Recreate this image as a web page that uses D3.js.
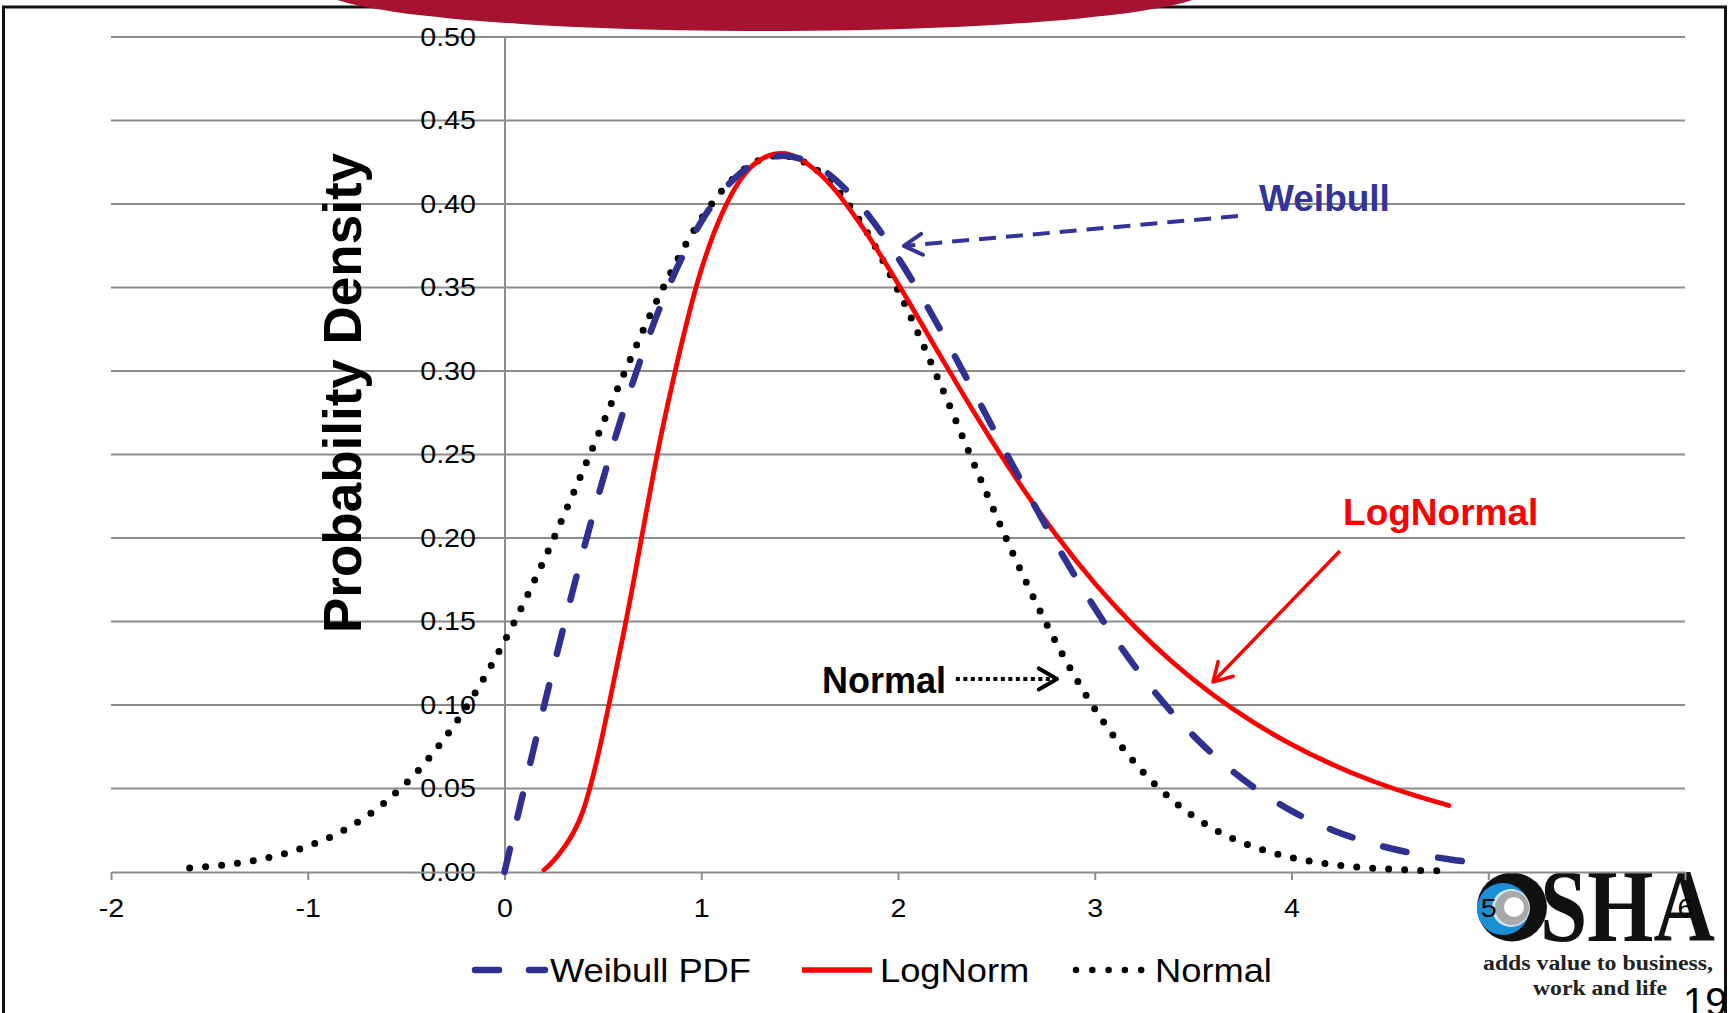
<!DOCTYPE html>
<html>
<head>
<meta charset="utf-8">
<script src="https://cdn.jsdelivr.net/npm/d3@7"></script>
<style>
  html, body { margin: 0; padding: 0; background: #fff; overflow: hidden; }
  svg { display: block; }
  text { font-family: "Liberation Sans", Arial, sans-serif; }
</style>
</head>
<body>
<svg id="chart" width="1733" height="1013"></svg>
<script>
// ---- data -------------------------------------------------------------
const weibullX = [0, 0.2, 0.4, 0.6, 0.8, 1.0, 1.2, 1.4, 1.6, 1.8, 2.0, 2.2, 2.4, 2.6, 2.8, 3.0, 3.2, 3.4, 3.6, 3.8, 4.0, 4.2, 4.4, 4.6, 4.8, 4.9];
const weibullY = [0, 0.0990, 0.1922, 0.2742, 0.3409, 0.3894, 0.4186, 0.4288, 0.4218, 0.4004, 0.3679, 0.3280, 0.2843, 0.2399, 0.1972, 0.1581, 0.1237, 0.0945, 0.0705, 0.0514, 0.0366, 0.0255, 0.0174, 0.0116, 0.0076, 0.0061];

const lognormX = [0.2, 0.4, 0.6, 0.8, 1.0, 1.2, 1.4, 1.6, 1.8, 2.0, 2.2, 2.4, 2.6, 2.8, 3.0, 3.2, 3.4, 3.6, 3.8, 4.0, 4.2, 4.4, 4.6, 4.8];
const lognormY = [0.0012, 0.0369, 0.1400, 0.2638, 0.3606, 0.4147, 0.4303, 0.4183, 0.3895, 0.3523, 0.3121, 0.2727, 0.2358, 0.2024, 0.1729, 0.1473, 0.1251, 0.1062, 0.0901, 0.0764, 0.0648, 0.0550, 0.0468, 0.0398];

const normalX = [-1.6, -1.4, -1.2, -1.0, -0.8, -0.6, -0.4, -0.2, 0, 0.2, 0.4, 0.6, 0.8, 1.0, 1.2, 1.4, 1.6, 1.8, 2.0, 2.2, 2.4, 2.6, 2.8, 3.0, 3.2, 3.4, 3.6, 3.8, 4.0, 4.2, 4.4, 4.6, 4.8];
const normalY = [0.0024, 0.0046, 0.0086, 0.0154, 0.0261, 0.0425, 0.0659, 0.0977, 0.1382, 0.1866, 0.2406, 0.2963, 0.3484, 0.3911, 0.4192, 0.4290, 0.4192, 0.3911, 0.3484, 0.2963, 0.2406, 0.1866, 0.1382, 0.0977, 0.0659, 0.0425, 0.0261, 0.0154, 0.0086, 0.0046, 0.0024, 0.0012, 0.0005];

const seriesNames = ["Weibull PDF", "LogNorm", "Normal"];
const xTicks = [-2, -1, 0, 1, 2, 3, 4, 5, 6];
const yTicks = [0, 0.05, 0.10, 0.15, 0.20, 0.25, 0.30, 0.35, 0.40, 0.45, 0.50];
const yTitle = "Probability Density";

// call-out labels, anchored in data units
const calloutText = ["Weibull", "LogNormal", "Normal"];
const calloutLabelAt = [[3.835, 0.3958], [4.262, 0.2078], [1.614, 0.1072]];
const calloutFrom = [[3.728, 0.3928], [4.246, 0.1922], [2.294, 0.1156]];
const calloutTo = [[2.030, 0.3749], [3.601, 0.1138], [2.808, 0.1156]];

// ---- drawing ----------------------------------------------------------
const svg = d3.select("#chart");
const W = 1733, H = 1013;

const x = d3.scaleLinear().domain([-2, 6]).range([111, 1685]);
const y = d3.scaleLinear().domain([0, 0.5]).range([872, 37]);

const NAVY = "#2e3192", RED = "#ff0000", GRID = "#8c8c8c";

svg.append("rect").attr("width", W).attr("height", H).attr("fill", "#fff");

// frame
const frame = svg.append("g").attr("stroke", "#111").attr("stroke-width", 3).attr("fill", "none");
frame.append("line").attr("x1", 2).attr("x2", 1727).attr("y1", 7).attr("y2", 7);
frame.append("line").attr("x1", 3.5).attr("x2", 3.5).attr("y1", 6).attr("y2", H);
frame.append("line").attr("x1", 1725.5).attr("x2", 1725.5).attr("y1", 6).attr("y2", H);

// slide decoration: red swoosh at the top
svg.append("ellipse")
  .attr("cx", 765).attr("cy", -12).attr("rx", 445).attr("ry", 43)
  .attr("fill", "#a6122f");

// logo (bottom right)
const logo = svg.append("g");
logo.append("ellipse").attr("cx", 1512).attr("cy", 907).attr("rx", 35).attr("ry", 34.5).attr("fill", "#111");
logo.append("circle").attr("cx", 1503).attr("cy", 909).attr("r", 26).attr("fill", "#1b8fd6");
logo.append("circle").attr("cx", 1511).attr("cy", 908).attr("r", 19).attr("fill", "#cfe6f5");
logo.append("circle").attr("cx", 1512).attr("cy", 908).attr("r", 17).attr("fill", "#a9a9a9");
logo.append("circle").attr("cx", 1514).attr("cy", 907).attr("r", 10).attr("fill", "#fff");
logo.append("text").text("SHA")
  .attr("x", 1540).attr("y", 941)
  .attr("textLength", 175).attr("lengthAdjust", "spacingAndGlyphs")
  .style("font-family", "'Liberation Serif', 'DejaVu Serif', serif")
  .style("font-weight", "bold").style("font-size", "103px").attr("fill", "#111");
logo.append("text").text("adds value to business,")
  .attr("x", 1483).attr("y", 970)
  .attr("textLength", 230).attr("lengthAdjust", "spacingAndGlyphs")
  .style("font-family", "'Liberation Serif', 'DejaVu Serif', serif")
  .style("font-weight", "bold").style("font-size", "20px").attr("fill", "#222");
logo.append("text").text("work and life")
  .attr("x", 1533).attr("y", 995)
  .attr("textLength", 134).attr("lengthAdjust", "spacingAndGlyphs")
  .style("font-family", "'Liberation Serif', 'DejaVu Serif', serif")
  .style("font-weight", "bold").style("font-size", "20px").attr("fill", "#222");

// horizontal gridlines
svg.append("g").selectAll("line").data(yTicks.filter(d => d > 0)).join("line")
  .attr("x1", x(-2)).attr("x2", x(6))
  .attr("y1", d => y(d)).attr("y2", d => y(d))
  .attr("stroke", GRID).attr("stroke-width", 2);

// y axis at x = 0
const yAxis = svg.append("g")
  .attr("transform", `translate(${x(0)},0)`)
  .call(d3.axisLeft(y).tickValues(yTicks).tickFormat(d3.format(".2f")).tickSize(0).tickPadding(26));
yAxis.select(".domain").attr("stroke", GRID).attr("stroke-width", 2);
yAxis.selectAll("text")
  .attr("fill", "#000").style("font-size", "26px").style("font-family", "'Liberation Sans', Arial, sans-serif")
  .attr("transform", "scale(1.1,1)");

// x axis at y = 0
const xAxis = svg.append("g")
  .attr("transform", `translate(0,${y(0)})`)
  .call(d3.axisBottom(x).tickValues(xTicks).tickFormat(d => String(d)).tickSize(8).tickSizeOuter(0));
xAxis.select(".domain").attr("stroke", GRID).attr("stroke-width", 2);
xAxis.selectAll(".tick line").attr("stroke", GRID).attr("stroke-width", 2);
xAxis.selectAll("text")
  .attr("fill", "#000").attr("y", 45).attr("dy", 0)
  .style("font-size", "26px").style("font-family", "'Liberation Sans', Arial, sans-serif")
  .attr("transform", "scale(1.1,1)");

// axis title
svg.append("text").text(yTitle)
  .attr("transform", "translate(361,393) rotate(-90)")
  .attr("text-anchor", "middle")
  .style("font-weight", "bold").style("font-size", "53px").attr("fill", "#000");

// curves
const line = d3.line().x(d => x(d[0])).y(d => y(d[1])).curve(d3.curveCatmullRom.alpha(0));
const zip = (a, b) => a.map((v, i) => [v, b[i]]);

svg.append("path").datum(zip(normalX, normalY))
  .attr("d", line).attr("fill", "none")
  .attr("stroke", "#000").attr("stroke-width", 7)
  .attr("stroke-linecap", "round").attr("stroke-dasharray", "0 16");

svg.append("path").datum(zip(lognormX, lognormY))
  .attr("d", line).attr("fill", "none")
  .attr("stroke", RED).attr("stroke-width", 4.75)
  .attr("stroke-linecap", "round").attr("stroke-linejoin", "round");

svg.append("path").datum(zip(weibullX, weibullY))
  .attr("d", line).attr("fill", "none")
  .attr("stroke", NAVY).attr("stroke-width", 6.5)
  .attr("stroke-linecap", "round").attr("stroke-dasharray", "24 32");

// call-outs with arrows
const calloutColor = ["#333399", RED, "#000"];
const calloutSize = [37, 37, 36];
const calloutDash = ["17 10", null, "4 3.5"];
const calloutWidth = [4, 3.5, 4];

calloutText.forEach((t, i) => {
  const g = svg.append("g");
  g.append("text").text(t)
    .attr("x", x(calloutLabelAt[i][0])).attr("y", y(calloutLabelAt[i][1]))
    .style("font-weight", "bold").style("font-size", calloutSize[i] + "px")
    .attr("fill", calloutColor[i]);
  const fx = x(calloutFrom[i][0]), fy = y(calloutFrom[i][1]);
  const tx = x(calloutTo[i][0]), ty = y(calloutTo[i][1]);
  g.append("line").attr("x1", fx).attr("y1", fy).attr("x2", tx).attr("y2", ty)
    .attr("stroke", calloutColor[i]).attr("stroke-width", calloutWidth[i])
    .attr("stroke-dasharray", calloutDash[i]);
  const ang = Math.atan2(ty - fy, tx - fx), L = 21, phi = Math.PI / 6;
  const a1 = [tx - L * Math.cos(ang - phi), ty - L * Math.sin(ang - phi)];
  const a2 = [tx - L * Math.cos(ang + phi), ty - L * Math.sin(ang + phi)];
  g.append("path")
    .attr("d", `M${a1[0]},${a1[1]}L${tx},${ty}L${a2[0]},${a2[1]}`)
    .attr("fill", "none").attr("stroke", calloutColor[i]).attr("stroke-width", calloutWidth[i])
    .attr("stroke-linecap", "round").attr("stroke-linejoin", "round");
});

// legend
const legend = svg.append("g");
const ly = 970;
legend.append("line").attr("x1", 475).attr("x2", 545).attr("y1", ly).attr("y2", ly)
  .attr("stroke", NAVY).attr("stroke-width", 6.5).attr("stroke-linecap", "round").attr("stroke-dasharray", "24 30");
legend.append("line").attr("x1", 802).attr("x2", 872).attr("y1", ly).attr("y2", ly)
  .attr("stroke", RED).attr("stroke-width", 5.5);
legend.append("line").attr("x1", 1076).attr("x2", 1141.5).attr("y1", ly).attr("y2", ly)
  .attr("stroke", "#000").attr("stroke-width", 6.5).attr("stroke-linecap", "round").attr("stroke-dasharray", "0 16.3");
const legendTextX = [550, 880, 1155];
seriesNames.forEach((n, i) => {
  legend.append("text").text(n)
    .attr("transform", `translate(${legendTextX[i]},982) scale(1.1,1)`)
    .style("font-size", "33px").attr("fill", "#000");
});

// slide number
svg.append("text").text("19")
  .attr("x", 1683).attr("y", 1016)
  .style("font-size", "40px").attr("fill", "#000");
</script>
</body>
</html>
